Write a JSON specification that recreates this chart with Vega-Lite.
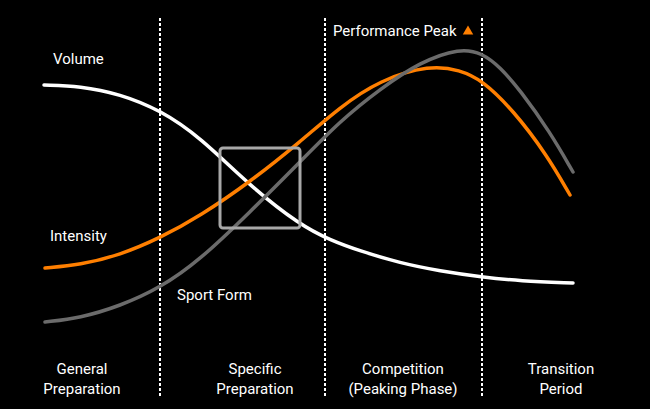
{
  "$schema": "https://vega.github.io/schema/vega-lite/v6.json",
  "width": 650,
  "height": 409,
  "autosize": {"type": "none"},
  "padding": 0,
  "background": "#000000",
  "config": {"view": {"stroke": null}, "text": {"font": "Roboto", "fontSize": 15, "color": "#ffffff"}},
  "datasets": {
    "curves": [
      {"series": "Volume", "t": 44, "v": 85},
      {"series": "Volume", "t": 80, "v": 86},
      {"series": "Volume", "t": 120, "v": 94},
      {"series": "Volume", "t": 160, "v": 110},
      {"series": "Volume", "t": 200, "v": 137},
      {"series": "Volume", "t": 250, "v": 186},
      {"series": "Volume", "t": 300, "v": 225},
      {"series": "Volume", "t": 330, "v": 240},
      {"series": "Volume", "t": 360, "v": 251},
      {"series": "Volume", "t": 400, "v": 263},
      {"series": "Volume", "t": 440, "v": 271},
      {"series": "Volume", "t": 482, "v": 277},
      {"series": "Volume", "t": 520, "v": 281},
      {"series": "Volume", "t": 573, "v": 283},
      {"series": "Intensity", "t": 45, "v": 268},
      {"series": "Intensity", "t": 80, "v": 265},
      {"series": "Intensity", "t": 120, "v": 255},
      {"series": "Intensity", "t": 160, "v": 238},
      {"series": "Intensity", "t": 200, "v": 216},
      {"series": "Intensity", "t": 250, "v": 182},
      {"series": "Intensity", "t": 300, "v": 142},
      {"series": "Intensity", "t": 340, "v": 107},
      {"series": "Intensity", "t": 380, "v": 80},
      {"series": "Intensity", "t": 430, "v": 65},
      {"series": "Intensity", "t": 460, "v": 70},
      {"series": "Intensity", "t": 482, "v": 80},
      {"series": "Intensity", "t": 513, "v": 110},
      {"series": "Intensity", "t": 547, "v": 155},
      {"series": "Intensity", "t": 570, "v": 195},
      {"series": "Sport Form", "t": 45, "v": 322},
      {"series": "Sport Form", "t": 80, "v": 318},
      {"series": "Sport Form", "t": 120, "v": 306},
      {"series": "Sport Form", "t": 160, "v": 288},
      {"series": "Sport Form", "t": 200, "v": 260},
      {"series": "Sport Form", "t": 250, "v": 212},
      {"series": "Sport Form", "t": 300, "v": 162},
      {"series": "Sport Form", "t": 340, "v": 121},
      {"series": "Sport Form", "t": 380, "v": 89},
      {"series": "Sport Form", "t": 420, "v": 62},
      {"series": "Sport Form", "t": 460, "v": 48},
      {"series": "Sport Form", "t": 482, "v": 53},
      {"series": "Sport Form", "t": 500, "v": 67},
      {"series": "Sport Form", "t": 520, "v": 90},
      {"series": "Sport Form", "t": 550, "v": 132},
      {"series": "Sport Form", "t": 573, "v": 172}
    ],
    "dividers": [
      {"t": 160, "top": 18, "bottom": 396},
      {"t": 325, "top": 18, "bottom": 396},
      {"t": 482, "top": 18, "bottom": 396}
    ],
    "box": [{"t1": 220, "t2": 300, "v1": 148, "v2": 228}],
    "labels": [
      {"label": "Volume", "t": 53, "v": 59},
      {"label": "Intensity", "t": 50, "v": 236},
      {"label": "Sport Form", "t": 177, "v": 295},
      {"label": "Performance Peak", "t": 333, "v": 31}
    ],
    "phases": [
      {"label": "General\nPreparation", "t": 82, "v": 369},
      {"label": "Specific\nPreparation", "t": 255, "v": 369},
      {"label": "Competition\n(Peaking Phase)", "t": 403, "v": 369},
      {"label": "Transition\nPeriod", "t": 561, "v": 369}
    ],
    "peak": [{"t": 468, "v": 30}]
  },
  "layer": [
    {
      "data": {"name": "dividers"},
      "mark": {"type": "rule", "color": "#ffffff", "strokeWidth": 2, "strokeDash": [3, 2]},
      "encoding": {
        "x": {"field": "t", "type": "quantitative", "scale": {"domain": [0, 650], "nice": false, "zero": false}, "axis": null},
        "y": {"field": "top", "type": "quantitative", "scale": {"domain": [0, 409], "nice": false, "zero": false, "reverse": true}, "axis": null},
        "y2": {"field": "bottom"}
      }
    },
    {
      "data": {"name": "curves"},
      "mark": {"type": "line", "interpolate": "basis", "strokeWidth": 3.5, "strokeCap": "round"},
      "encoding": {
        "x": {"field": "t", "type": "quantitative"},
        "y": {"field": "v", "type": "quantitative"},
        "detail": {"field": "series"},
        "order": {"field": "t"},
        "color": {"field": "series", "type": "nominal", "legend": null,
          "scale": {"domain": ["Sport Form", "Volume", "Intensity"], "range": ["#6b6b6b", "#ffffff", "#ff7f00"]}}
      }
    },
    {
      "data": {"name": "box"},
      "mark": {"type": "rect", "fill": null, "fillOpacity": 0, "stroke": "#a8a8a8", "strokeWidth": 3, "cornerRadius": 3},
      "encoding": {
        "x": {"field": "t1", "type": "quantitative"},
        "x2": {"field": "t2"},
        "y": {"field": "v1", "type": "quantitative"},
        "y2": {"field": "v2"}
      }
    },
    {
      "data": {"name": "labels"},
      "mark": {"type": "text", "align": "left", "baseline": "middle"},
      "encoding": {
        "x": {"field": "t", "type": "quantitative"},
        "y": {"field": "v", "type": "quantitative"},
        "text": {"field": "label"}
      }
    },
    {
      "data": {"name": "phases"},
      "mark": {"type": "text", "align": "center", "baseline": "middle", "lineBreak": "\n", "lineHeight": 20},
      "encoding": {
        "x": {"field": "t", "type": "quantitative"},
        "y": {"field": "v", "type": "quantitative"},
        "text": {"field": "label"}
      }
    },
    {
      "data": {"name": "peak"},
      "mark": {"type": "point", "shape": "triangle-up", "filled": true, "color": "#ff7f00", "size": 110, "opacity": 1},
      "encoding": {
        "x": {"field": "t", "type": "quantitative"},
        "y": {"field": "v", "type": "quantitative"}
      }
    }
  ]
}
